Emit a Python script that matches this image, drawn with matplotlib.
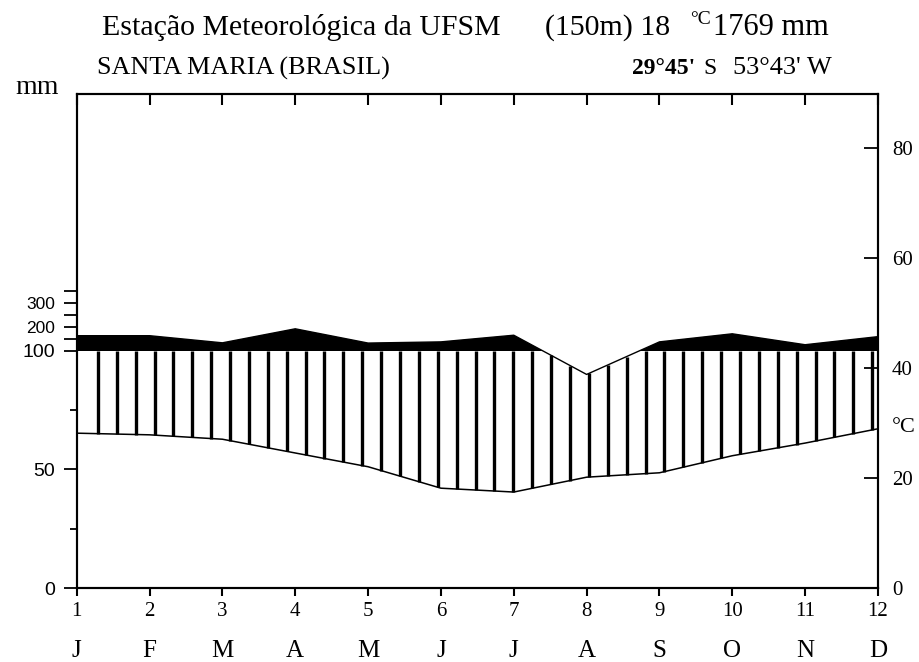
"""Walter-Lieth climate diagram for the UFSM weather station (Santa Maria)."""
import matplotlib
matplotlib.use("Agg")
import matplotlib.pyplot as plt
import numpy as np
from matplotlib.patches import Polygon

SERIF = "Liberation Serif"
SANS = "Liberation Sans"

months = np.arange(1, 13)
month_letters = ["J", "F", "M", "A", "M", "J", "J", "A", "S", "O", "N", "D"]

# monthly precipitation (mm) and temperature (°C)
precip = np.array([163, 163, 133, 192, 132, 137, 165, 90, 137, 171, 125, 159])
temp = np.array([28.2, 27.9, 27.1, 24.6, 22.1, 18.2, 17.5, 20.2, 21.0, 24.1, 26.4, 29.0])

mm_ticks_major = [0, 50, 100, 150, 200, 250, 300, 350]
mm_ticks_minor = [25, 75]
mm_labels = {0: "0", 50: "50", 100: "100", 200: "200", 300: "300"}
temp_ticks = [0, 20, 40, 60, 80]

MM_PER_DEG = 2.315   # vertical link between the two scales
MM_TOP = 1180


def mm_forward(p):
    p = np.asarray(p, dtype=float)
    return np.where(p <= 100, p, 100 + (p - 100) / 10.0)


def mm_inverse(s):
    s = np.asarray(s, dtype=float)
    return np.where(s <= 100, s, 100 + (s - 100) * 10.0)


fig = plt.figure(figsize=(9.2, 6.62), dpi=100)
ax = fig.add_axes([0.0834, 0.1113, 0.8709, 0.7467])
ax.set_yscale("function", functions=(mm_forward, mm_inverse))
ax.set_xlim(1, 12)
ax.set_ylim(0, MM_TOP)

ax2 = ax.twinx()
ax2.set_ylim(0, float(mm_forward(MM_TOP)) / MM_PER_DEG)

# humid period: vertical hatching between temperature and precipitation (<=100 mm)
hatch_x = np.arange(1.29, 12.0, 0.2593)
hatch_bottom = np.interp(hatch_x, months, temp) * MM_PER_DEG
hatch_top = np.minimum(np.interp(hatch_x, months, mm_forward(precip)), 100)
keep = hatch_top > hatch_bottom
ax.vlines(hatch_x[keep], hatch_bottom[keep], hatch_top[keep], color="black", linewidth=2.4)

# perhumid part above 100 mm in solid black: band above 100 cut by the rain curve
under_rain = Polygon(np.column_stack([np.r_[months, 12, 1], np.r_[precip, 0, 0]]),
                     transform=ax.transData)
black = ax.fill_between([1, 12], 100, MM_TOP, color="black", linewidth=0)
black.set_clip_path(under_rain)
ax.plot(months, precip, color="black", linewidth=1.0)

ax2.plot(months, temp, color="black", linewidth=1.1)

# left axis (mm)
ax.set_yticks(mm_ticks_major)
ax.set_yticklabels([mm_labels.get(v, "") for v in mm_ticks_major])
ax.set_yticks(mm_ticks_minor, minor=True)
ax.tick_params(axis="y", which="major", direction="out", length=9.5, width=1.3, pad=6)
ax.tick_params(axis="y", which="minor", direction="out", length=5, width=1.3)
for lab, v in zip(ax.get_yticklabels(), mm_ticks_major):
    lab.set_fontfamily(SANS)
    lab.set_fontsize(12.5 if v in (200, 300) else 14)

# bottom / top axis (months)
ax.set_xticks(months)
ax.set_xticklabels([str(m) for m in months], fontfamily=SERIF, fontsize=15)
ax.tick_params(axis="x", which="major", direction="out", length=6, width=1.5, pad=4)
sec = ax.secondary_xaxis("top")
sec.set_xticks(months)
sec.set_xticklabels([])
sec.tick_params(direction="in", length=8, width=1.5)
sec.spines["top"].set_visible(False)

for m, letter in zip(months, month_letters):
    ax.text(m, -0.127, letter, transform=ax.get_xaxis_transform(), ha="center",
            va="center", fontfamily=SERIF, fontsize=18)

# right axis (°C)
ax2.set_yticks(temp_ticks)
ax2.set_yticklabels([str(t) for t in temp_ticks], fontfamily=SERIF, fontsize=15)
ax2.tick_params(axis="y", direction="in", length=10, width=1.3, pad=10)
ax2.text(1.0175, 29.3, "°C", transform=ax2.get_yaxis_transform(), ha="left", va="center",
         fontfamily=SERIF, fontsize=16)

for a in (ax, ax2):
    for s in a.spines.values():
        s.set_linewidth(1.5)

# header
W, H = 920.0, 662.0
fig.text(301 / W, 1 - 35 / H, "Estação Meteorológica da UFSM", ha="center", va="baseline",
         fontfamily=SERIF, fontsize=21.5)
fig.text(608 / W, 1 - 35 / H, "(150m) 18", ha="center", va="baseline",
         fontfamily=SERIF, fontsize=21.5)
fig.text(701 / W, 1 - 23.5 / H, "°C", ha="center", va="baseline",
         fontfamily=SERIF, fontsize=14)
fig.text(771 / W, 1 - 35 / H, "1769 mm", ha="center", va="baseline",
         fontfamily=SERIF, fontsize=22)
fig.text(97 / W, 1 - 74.5 / H, "SANTA MARIA (BRASIL)", ha="left", va="baseline",
         fontfamily=SERIF, fontsize=18.8)
fig.text(632 / W, 1 - 74.5 / H, "29°45'", ha="left", va="baseline",
         fontfamily=SERIF, fontsize=17, fontweight="bold")
fig.text(710 / W, 1 - 74.5 / H, "S", ha="center", va="baseline",
         fontfamily=SERIF, fontsize=17)
fig.text(832 / W, 1 - 74.5 / H, "53°43' W", ha="right", va="baseline",
         fontfamily=SERIF, fontsize=19)
fig.text(37 / W, 1 - 93.5 / H, "mm", ha="center", va="baseline",
         fontfamily=SERIF, fontsize=20)

fig.savefig("out.png", dpi=100)
